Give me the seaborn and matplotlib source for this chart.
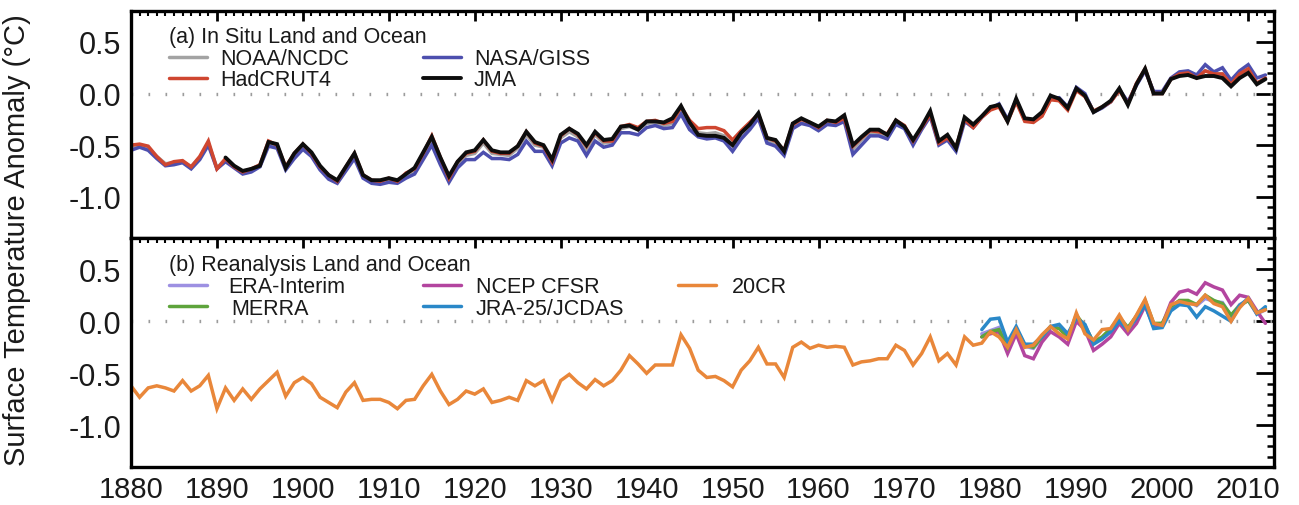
import matplotlib
matplotlib.use("Agg")
import matplotlib.pyplot as plt
from matplotlib.ticker import MultipleLocator
from matplotlib.legend import Legend
import seaborn as sns

# ---------------- data ----------------
years = list(range(1880, 2013))
jma_years = list(range(1891, 2013))
rean_years = list(range(1979, 2013))

noaa_ncdc = [
    -0.52, -0.50, -0.53, -0.61, -0.68, -0.67, -0.66, -0.71, -0.62, -0.48,
    -0.72, -0.64, -0.70, -0.76, -0.74, -0.70, -0.48, -0.51, -0.72, -0.60,
    -0.51, -0.59, -0.72, -0.80, -0.85, -0.73, -0.60, -0.80, -0.85, -0.86,
    -0.83, -0.85, -0.79, -0.75, -0.60, -0.44, -0.64, -0.83, -0.68, -0.60,
    -0.58, -0.48, -0.58, -0.59, -0.60, -0.53, -0.40, -0.50, -0.52, -0.66,
    -0.43, -0.37, -0.42, -0.54, -0.40, -0.48, -0.47, -0.34, -0.32, -0.35,
    -0.29, -0.28, -0.31, -0.29, -0.15, -0.29, -0.38, -0.39, -0.38, -0.41,
    -0.50, -0.39, -0.31, -0.22, -0.45, -0.48, -0.57, -0.31, -0.26, -0.29,
    -0.34, -0.27, -0.29, -0.25, -0.54, -0.45, -0.38, -0.38, -0.41, -0.27,
    -0.32, -0.47, -0.34, -0.20, -0.48, -0.43, -0.53, -0.24, -0.32, -0.22,
    -0.15, -0.12, -0.26, -0.07, -0.26, -0.27, -0.21, -0.05, -0.05, -0.14,
    0.04, -0.02, -0.17, -0.13, -0.08, 0.04, -0.09, 0.09, 0.23, 0.01,
    0.01, 0.14, 0.19, 0.20, 0.16, 0.22, 0.19, 0.19, 0.09, 0.19,
    0.23, 0.10, 0.14]

hadcrut4 = [
    -0.50, -0.49, -0.51, -0.61, -0.69, -0.66, -0.65, -0.71, -0.61, -0.46,
    -0.73, -0.63, -0.71, -0.76, -0.73, -0.69, -0.46, -0.50, -0.71, -0.58,
    -0.49, -0.58, -0.71, -0.79, -0.85, -0.71, -0.58, -0.79, -0.84, -0.85,
    -0.82, -0.85, -0.77, -0.73, -0.58, -0.41, -0.62, -0.82, -0.66, -0.58,
    -0.56, -0.45, -0.56, -0.58, -0.58, -0.51, -0.37, -0.48, -0.51, -0.66,
    -0.41, -0.34, -0.40, -0.51, -0.38, -0.46, -0.46, -0.32, -0.30, -0.33,
    -0.27, -0.26, -0.29, -0.27, -0.13, -0.26, -0.34, -0.33, -0.33, -0.36,
    -0.45, -0.36, -0.28, -0.20, -0.43, -0.46, -0.55, -0.30, -0.25, -0.28,
    -0.33, -0.26, -0.28, -0.24, -0.51, -0.43, -0.36, -0.37, -0.39, -0.26,
    -0.31, -0.46, -0.33, -0.20, -0.48, -0.43, -0.52, -0.25, -0.33, -0.23,
    -0.16, -0.13, -0.27, -0.08, -0.27, -0.28, -0.22, -0.06, -0.07, -0.16,
    0.03, -0.03, -0.17, -0.13, -0.08, 0.03, -0.10, 0.10, 0.24, 0.00,
    0.00, 0.14, 0.19, 0.20, 0.15, 0.22, 0.19, 0.19, 0.09, 0.19,
    0.24, 0.10, 0.15]

nasa_giss = [
    -0.55, -0.52, -0.55, -0.63, -0.70, -0.69, -0.67, -0.73, -0.64, -0.50,
    -0.73, -0.66, -0.72, -0.78, -0.76, -0.71, -0.51, -0.53, -0.74, -0.63,
    -0.54, -0.61, -0.74, -0.83, -0.87, -0.75, -0.63, -0.82, -0.87, -0.88,
    -0.86, -0.87, -0.82, -0.78, -0.64, -0.50, -0.69, -0.86, -0.72, -0.64,
    -0.64, -0.57, -0.63, -0.63, -0.64, -0.59, -0.46, -0.56, -0.56, -0.70,
    -0.48, -0.43, -0.46, -0.60, -0.46, -0.52, -0.50, -0.38, -0.38, -0.40,
    -0.33, -0.31, -0.34, -0.33, -0.20, -0.35, -0.42, -0.44, -0.43, -0.46,
    -0.56, -0.44, -0.35, -0.24, -0.48, -0.51, -0.60, -0.34, -0.29, -0.31,
    -0.36, -0.30, -0.31, -0.27, -0.59, -0.50, -0.41, -0.41, -0.44, -0.30,
    -0.34, -0.50, -0.35, -0.22, -0.50, -0.45, -0.56, -0.27, -0.33, -0.23,
    -0.15, -0.10, -0.25, -0.06, -0.25, -0.27, -0.21, -0.05, -0.04, -0.13,
    0.06, 0.00, -0.18, -0.14, -0.08, 0.04, -0.08, 0.08, 0.22, 0.02,
    0.02, 0.15, 0.21, 0.22, 0.18, 0.28, 0.21, 0.25, 0.13, 0.22,
    0.28, 0.15, 0.18]

jma = [
    -0.62, -0.70, -0.75, -0.73, -0.70, -0.47, -0.49, -0.72, -0.58,
    -0.49, -0.57, -0.70, -0.79, -0.84, -0.71, -0.58, -0.79, -0.84, -0.84,
    -0.82, -0.84, -0.78, -0.72, -0.57, -0.42, -0.62, -0.80, -0.66, -0.57,
    -0.55, -0.45, -0.55, -0.57, -0.57, -0.51, -0.37, -0.47, -0.50, -0.64,
    -0.40, -0.34, -0.39, -0.50, -0.37, -0.45, -0.44, -0.32, -0.31, -0.35,
    -0.27, -0.27, -0.28, -0.24, -0.12, -0.28, -0.40, -0.41, -0.41, -0.43,
    -0.50, -0.38, -0.30, -0.19, -0.43, -0.45, -0.56, -0.29, -0.24, -0.28,
    -0.32, -0.26, -0.27, -0.21, -0.50, -0.42, -0.35, -0.35, -0.40, -0.26,
    -0.32, -0.45, -0.32, -0.17, -0.46, -0.40, -0.53, -0.23, -0.30, -0.22,
    -0.13, -0.11, -0.27, -0.05, -0.24, -0.25, -0.18, -0.02, -0.05, -0.14,
    0.05, -0.02, -0.18, -0.13, -0.07, 0.05, -0.11, 0.09, 0.24, 0.00,
    0.00, 0.14, 0.17, 0.18, 0.15, 0.17, 0.17, 0.15, 0.07, 0.15,
    0.20, 0.09, 0.14]

era_interim = [
    -0.12, -0.09, -0.06, -0.24, -0.08, -0.24, -0.26, -0.16, -0.06, -0.06,
    -0.16, 0.04, -0.04, -0.21, -0.16, -0.08, 0.03, -0.07, 0.05, 0.19,
    -0.03, -0.02, 0.13, 0.18, 0.19, 0.15, 0.22, 0.19, 0.18, 0.05,
    0.16, 0.20, 0.07, 0.11]

ncep_cfsr = [
    -0.15, -0.12, -0.10, -0.31, -0.12, -0.33, -0.36, -0.20, -0.10, -0.15,
    -0.22, 0.00, -0.08, -0.28, -0.22, -0.15, -0.02, -0.12, -0.02, 0.15,
    -0.05, -0.03, 0.18, 0.28, 0.30, 0.26, 0.37, 0.33, 0.30, 0.16,
    0.25, 0.23, 0.10, -0.02]

merra = [
    -0.15, -0.10, -0.08, -0.25, -0.07, -0.23, -0.25, -0.15, -0.05, -0.07,
    -0.15, 0.06, -0.05, -0.20, -0.15, -0.07, 0.04, -0.06, 0.05, 0.20,
    -0.02, -0.02, 0.14, 0.20, 0.20, 0.16, 0.25, 0.20, 0.17, 0.06,
    0.15, 0.20, 0.08, 0.12]

jra25_jcdas = [
    -0.08, 0.02, 0.03, -0.20, -0.05, -0.22, -0.22, -0.15, -0.05, -0.03,
    -0.12, 0.03, -0.03, -0.22, -0.17, -0.10, 0.00, -0.08, 0.03, 0.16,
    -0.07, -0.06, 0.10, 0.16, 0.15, 0.04, 0.14, 0.10, 0.05, 0.00,
    0.15, 0.22, 0.07, 0.14]

cr20 = [
    -0.62, -0.73, -0.64, -0.62, -0.64, -0.67, -0.57, -0.67, -0.62, -0.52,
    -0.84, -0.64, -0.76, -0.65, -0.75, -0.65, -0.57, -0.49, -0.72, -0.59,
    -0.54, -0.60, -0.73, -0.78, -0.83, -0.68, -0.59, -0.76, -0.75, -0.75,
    -0.78, -0.84, -0.76, -0.75, -0.62, -0.51, -0.67, -0.80, -0.75, -0.67,
    -0.70, -0.65, -0.78, -0.76, -0.73, -0.76, -0.57, -0.62, -0.57, -0.76,
    -0.57, -0.51, -0.59, -0.65, -0.56, -0.62, -0.57, -0.47, -0.33, -0.41,
    -0.50, -0.42, -0.42, -0.42, -0.13, -0.26, -0.47, -0.54, -0.53, -0.57,
    -0.63, -0.47, -0.38, -0.25, -0.41, -0.41, -0.54, -0.25, -0.20, -0.26,
    -0.23, -0.25, -0.24, -0.25, -0.42, -0.39, -0.38, -0.36, -0.36, -0.23,
    -0.28, -0.42, -0.31, -0.15, -0.38, -0.31, -0.42, -0.15, -0.23, -0.21,
    -0.10, -0.15, -0.25, -0.08, -0.25, -0.23, -0.13, -0.05, -0.12, -0.17,
    0.08, -0.12, -0.18, -0.08, -0.07, 0.06, -0.08, 0.06, 0.21, -0.02,
    -0.04, 0.16, 0.19, 0.17, 0.16, 0.25, 0.17, 0.14, 0.00, 0.13,
    0.22, 0.08, 0.11]

year_ticks = [1880, 1890, 1900, 1910, 1920, 1930, 1940, 1950, 1960, 1970, 1980, 1990, 2000, 2010]
year_labels = [str(y) for y in year_ticks]
y_ticks = [-1.0, -0.5, 0.0, 0.5]
y_labels = ["-1.0", "-0.5", "0.0", "0.5"]

title_a = "(a) In Situ Land and Ocean"
title_b = "(b) Reanalysis Land and Ocean"
y_title = "Surface Temperature Anomaly (\u00b0C)"

# ---------------- style ----------------
sns.set_theme(style="white")
plt.rcParams["font.family"] = ["Liberation Sans", "DejaVu Sans"]
plt.rcParams["axes.unicode_minus"] = False

fig = plt.figure(figsize=(12.99, 5.06), dpi=100)
W, H = 1299, 506
L, R = 131 / W, 1274 / W
ax1 = fig.add_axes([L, 1 - 239 / H, R - L, (239 - 12) / H])
ax2 = fig.add_axes([L, 1 - 468 / H, R - L, (468 - 239) / H])

LEG_FS = 15.5
TXT = "#1a1a1a"


def draw(ax, x, y, color, lw, label):
    sns.lineplot(x=x, y=y, ax=ax, color=color, linewidth=lw, label=label,
                 legend=False, errorbar=None)
    return ax.lines[-1]


def key(ax, line, label, xf, yf, pad):
    leg = Legend(ax, [line], [label], loc="center left", bbox_to_anchor=(xf, yf),
                 bbox_transform=ax.transAxes, frameon=False, borderpad=0,
                 borderaxespad=0, handlelength=1.75, handletextpad=pad,
                 fontsize=LEG_FS, labelcolor=TXT)
    ax.add_artist(leg)


for ax in (ax1, ax2):
    ax.axhline(0, color="#9c9c9c", lw=2.4, linestyle=(0, (0.5, 4.6)), zorder=1)

# top panel
l_noaa = draw(ax1, years, noaa_ncdc, "#a3a3a3", 2.5, "NOAA/NCDC")
l_nasa = draw(ax1, years, nasa_giss, "#4d4fae", 2.5, "NASA/GISS")
l_had = draw(ax1, years, hadcrut4, "#cf4630", 2.5, "HadCRUT4")
l_jma = draw(ax1, jma_years, jma, "#0d0d0d", 2.8, "JMA")

# bottom panel
l_era = draw(ax2, rean_years, era_interim, "#9d90e2", 2.5, "ERA-Interim")
l_cfsr = draw(ax2, rean_years, ncep_cfsr, "#b3459f", 2.5, "NCEP CFSR")
l_merra = draw(ax2, rean_years, merra, "#5ea43c", 2.5, "MERRA")
l_jra = draw(ax2, rean_years, jra25_jcdas, "#2a88c8", 2.5, "JRA-25/JCDAS")
l_20cr = draw(ax2, years, cr20, "#e9873a", 2.5, "20CR")

for l in ax1.lines + ax2.lines:
    l.set_solid_joinstyle("miter")

# legends
c1, c2, c3 = (169 - 131) / 1143, (423 - 131) / 1143, (678 - 131) / 1143
ax1.text(c1, 0.889, title_a, transform=ax1.transAxes, ha="left", va="center",
         fontsize=LEG_FS, color=TXT)
key(ax1, l_noaa, "NOAA/NCDC", c1, 0.789, 0.62)
key(ax1, l_had, "HadCRUT4", c1, 0.697, 0.62)
key(ax1, l_nasa, "NASA/GISS", c2, 0.789, 0.62)
key(ax1, l_jma, "JMA", c2, 0.697, 0.62)

ax2.text(c1, 0.886, title_b, transform=ax2.transAxes, ha="left", va="center",
         fontsize=LEG_FS, color=TXT)
key(ax2, l_era, "ERA-Interim", c1, 0.787, 0.98)
key(ax2, l_merra, "MERRA", c1, 0.694, 1.15)
key(ax2, l_cfsr, "NCEP CFSR", c2, 0.787, 0.70)
key(ax2, l_jra, "JRA-25/JCDAS", c2, 0.694, 0.70)
key(ax2, l_20cr, "20CR", c3, 0.787, 0.74)

# axes formatting
for ax in (ax1, ax2):
    ax.set_xlim(1880, 2013)
    ax.set_ylim(-1.4, 0.8)
    ax.set_xticks(year_ticks)
    ax.xaxis.set_minor_locator(MultipleLocator(1))
    ax.set_yticks(y_ticks)
    ax.set_yticklabels(y_labels)
    ax.yaxis.set_minor_locator(MultipleLocator(0.1))
    ax.set_xlabel("")
    ax.set_ylabel("")
    for s in ax.spines.values():
        s.set_linewidth(2.4)
        s.set_color("black")
        s.set_visible(True)
    ax.tick_params(axis="both", which="both", direction="in", top=True, right=True,
                   color="black")
    ax.tick_params(axis="y", which="major", length=13, width=2.0, labelsize=22, pad=7,
                   labelcolor=TXT)
    ax.tick_params(axis="y", which="minor", length=5, width=1.8)
    ax.tick_params(axis="x", which="major", length=7, width=2.0, labelsize=21, pad=6,
                   labelcolor=TXT)
    ax.tick_params(axis="x", which="minor", length=3.5, width=1.5)

ax1.set_xticklabels([])
ax2.set_xticklabels(year_labels)

fig.text(17 / W, 1 - 240 / H, y_title, rotation=90, ha="center", va="center",
         fontsize=21, color=TXT)

fig.savefig("out.png", dpi=100, facecolor="white")
